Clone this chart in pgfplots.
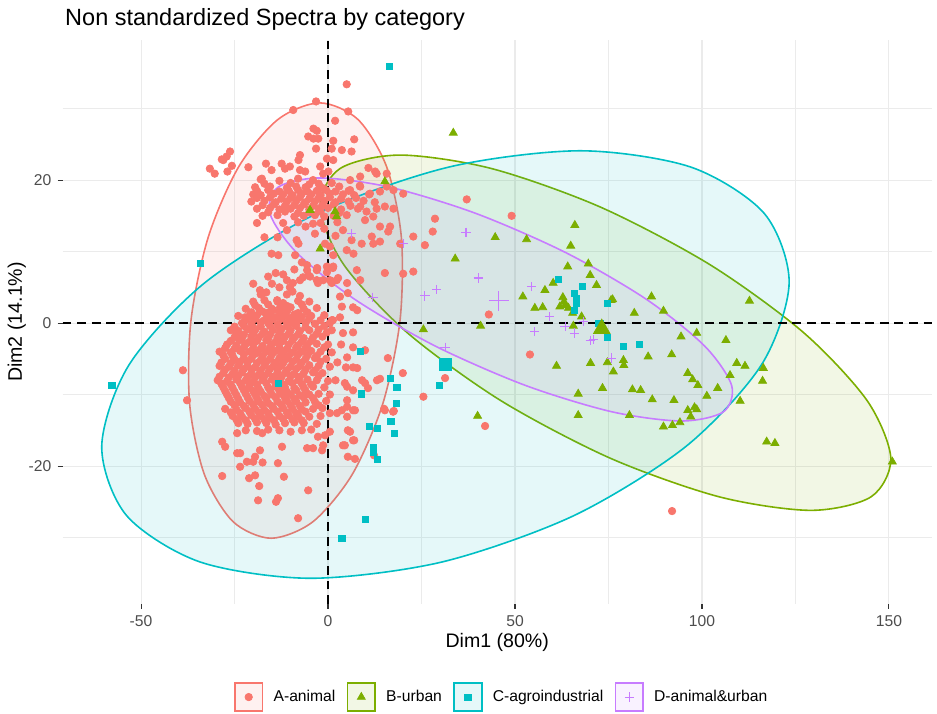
\documentclass[border=0pt]{standalone}
\usepackage{fontspec}
\setmainfont{Liberation Sans}
\usepackage{pgfplots}
\pgfplotsset{compat=1.18}
\definecolor{cA}{HTML}{F8766D}
\definecolor{cB}{HTML}{7CAE00}
\definecolor{cC}{HTML}{00BFC4}
\definecolor{cD}{HTML}{C77CFF}
\definecolor{gridc}{HTML}{EBEBEB}
\definecolor{tickc}{HTML}{4D4D4D}
\begin{document}
\begin{tikzpicture}
\begin{axis}[
 scale only axis, width=488.5pt, height=316.9pt,
 xmin=-71, xmax=161.5, ymin=-39.3, ymax=39.6,
 axis line style={draw=none},
 xtick={-50,0,50,100,150}, xticklabels={-50,0,50,100,150},
 ytick={-20,0,20}, yticklabels={-20,0,20},
 minor xtick={-25,25,75,125}, minor ytick={-30,-10,10,30},
 grid=both, major grid style={gridc, line width=0.6pt}, minor grid style={gridc, line width=0.35pt},
 tick align=outside, major tick length=2.75pt, minor tick length=0pt,
 xtick pos=bottom, ytick pos=left,
 tick style={black!80, line width=0.6pt},
 ticklabel style={font=\fontsize{8.8}{10}\selectfont, text=tickc},
 xlabel={Dim1 (80\%)}, ylabel={Dim2 (14.1\%)},
 label style={font=\fontsize{11}{13}\selectfont},
 xlabel style={at={(axis description cs:0.5,-0.068)}, anchor=center},
 ylabel style={at={(axis description cs:-0.0527,0.5)}, anchor=center},
 title={Non standardized Spectra by category},
 title style={at={(axis description cs:0,1)}, anchor=base west, yshift=2.3pt, xshift=-2pt, font=\fontsize{13.2}{15}\selectfont},
 legend style={at={(axis description cs:0.506,-0.165)}, anchor=center, legend columns=-1, draw=none, fill=none,
   font=\fontsize{8.8}{10}\selectfont, /tikz/every even column/.append style={column sep=4.3pt}},
 legend cell align=left,
]
\coordinate (bbSW) at (rel axis cs:-0.0719,-0.195);
\coordinate (bbNE) at (rel axis cs:1.0058,1.0709);

\addlegendimage{legend image code/.code={
  \draw[cA, fill=cA, fill opacity=0.1, line width=0.9pt] (0pt,-7.8pt) rectangle (15.6pt,7.8pt);
  \fill[cA] (7.8pt,0pt) circle (2.1pt); \path (19.6pt,0pt);}}
\addlegendentry{A-animal}
\addlegendimage{legend image code/.code={
  \draw[cB, fill=cB, fill opacity=0.1, line width=0.9pt] (0pt,-7.8pt) rectangle (15.6pt,7.8pt);
  \fill[cB] (7.8pt,2.6pt) -- (5.55pt,-1.3pt) -- (10.05pt,-1.3pt) -- cycle; \path (19.6pt,0pt);}}
\addlegendentry{B-urban}
\addlegendimage{legend image code/.code={
  \draw[cC, fill=cC, fill opacity=0.1, line width=0.9pt] (0pt,-7.8pt) rectangle (15.6pt,7.8pt);
  \fill[cC] (6.1pt,-1.7pt) rectangle (9.5pt,1.7pt); \path (19.6pt,0pt);}}
\addlegendentry{C-agroindustrial}
\addlegendimage{legend image code/.code={
  \draw[cD, fill=cD, fill opacity=0.1, line width=0.9pt] (0pt,-7.8pt) rectangle (15.6pt,7.8pt);
  \draw[cD, line width=0.6pt] (5.2pt,0pt) -- (10.4pt,0pt) (7.8pt,-2.6pt) -- (7.8pt,2.6pt); \path (19.6pt,0pt);}}
\addlegendentry{D-animal\&urban}

% A-animal points
\addplot[only marks, mark=*, mark size=2.1pt, cA, mark options={draw=none, fill=cA}, forget plot] coordinates {
(5,33.4) (-3.2,31) (-9.3,29.8) (5.4,29.6) (1.9,28.3) (-3.9,27.2) (-3,26.9) (-5.3,26.1) (-3.9,25.8) (-2.6,25.8)
(1.4,25.5) (7,25.7) (-3.2,24.4) (1,24.4) (3.7,24.2) (6.3,24) (-7.5,23.5) (-7.9,22.8) (-0.3,23) (1.4,22.8)
(-26.2,24) (-27.1,23.3) (-28,22.8) (-28.4,22.9) (-25.7,22) (-26.9,21.2) (-31.6,21.6) (-30.3,20.9) (-21.3,21.8)
(-16.6,22.3) (-12.4,22.3) (-11.5,21.6) (-10.2,21.9) (-15.1,21.4) (-17.7,20.2) (-7.5,21.4) (-6.1,21.2) (-2.1,21.9)
(-1.3,20.9) (0.1,21.2) (10.8,21.7) (12.6,21.2) (15.7,20.9)
(-18,20.1) (-13,19.9) (-8,20.2) (-4,20)
(-17,19.5) (-10,19.6) (-5,19.4) (-2.5,19.5) (1,19.6)
(-19.5,19) (-15.5,19.1) (-11,18.9) (-8.5,19.1) (-6,19) (-1.5,18.9) (3,19.1) (8.5,19.2)
(-19,18.5) (-16,18.6) (-13,18.4) (-10.5,18.5) (-8,18.6) (-5.5,18.4) (-3,18.5) (-0.5,18.6) (2,18.4) (5.5,18.5)
(-20,18) (-18,17.9) (-14.5,18.1) (-12,18) (-9.5,17.9) (-7,18.1) (-4.5,18) (-2,17.9) (0.5,18.1) (4,18) (7,17.9) (11,18)
(-19,17.5) (-15.5,17.6) (-12.5,17.4) (-10,17.5) (-7.5,17.6) (-5,17.4) (-2.5,17.5) (0.5,17.6) (3.5,17.4) (7.5,17.5)
(-20.5,17) (-17,17.1) (-14,16.9) (-11,17) (-8.5,17.1) (-6,16.9) (-3.5,17) (-1,17.1) (2,16.9) (5.5,17) (9.5,17.1) (12.5,16.9)
(-17.5,16.5) (-14.5,16.6) (-11.5,16.4) (-9,16.5) (-6.5,16.6) (-4,16.4) (-1.5,16.5) (1.5,16.6) (6,16.4)
(-19,16) (-15.5,16.1) (-13,15.9) (-10,16) (-7.5,16.1) (-5,15.9) (-2.5,16) (0,16.1) (3.5,15.9) (8,16)
(-16,15.5) (-11.5,15.6) (-8,15.4) (-5,15.5) (-2,15.6) (3,15.4)
(-17.5,15) (-13.5,15.1) (-9,14.9) (-6.5,15) (-3.5,15.1) (-1,14.9) (1.5,15) (5,15.1)
(-12,14) (-8,14.1) (-4,13.9) (-2,14) (2.5,14.1)
(5.9,20) (8.6,20.5) (13,20.9) (8.6,19.1) (5.9,18.6) (11.2,18.1) (13.9,18.4) (15.7,19.1) (17.5,18.6)
(8.6,16.3) (10.3,15.6) (13,16) (15.2,16.3) (17.5,16) (9.9,14.4) (12.1,14.9) (13.9,13.5) (16.6,13.5) (16.1,12.8)
(11.7,12.1) (9,11.1) (6.3,11.6) (12.1,11.1) (13.9,11.4) (19.3,11.1) (22.8,12.1) (25.9,10.9) (28.6,14.6) (22.8,7.2)
(20.1,6.9) (15.2,7) (7.7,7.4) (8.6,6) (5,10.2) (6.8,9.7) (28,12.8) (37.1,17.3) (49.1,15) (20.1,18.1)
(-8.4,11.6) (-7.9,11.1) (-15.1,9.7) (-13.3,9.5) (-0.8,11.1) (0.5,10.7) (1.4,9.5) (-0.3,7.9) (1.4,7.9) (2.3,6)
(1,5.6) (-3,7.4) (-4.8,6.5) (-3,6) (3.2,3.7) (3.7,2.3) (1,0.4) (-8.8,9.5) (-5.6,8.1) (-2.9,7.7) (-0.3,7.1)
(1.3,7.7) (-1.3,6) (0.5,6) (2.7,6.3) (5.3,4.2) (6.7,2.2) (7.8,1.8) (5.1,5.6) (-2.7,5.6)
(-11,13) (-6,13.5) (-3.5,12.5) (-1,13.2) (2,12.2) (4,13) (-17,12) (-19,14) (-13.5,12)
(-18.2,4.6) (-17.4,4.2) (-11,6) (-10.2,5) (-9.4,5.6) (-7.5,6) (-6.7,6.4) (-5.6,7.4) (-5.3,6.7) (-13.6,3.2)
(-12.8,2.2) (-14.7,1.8) (-16.3,1.4) (-18.2,1.8) (-22.2,0.8) (-20.9,1.1)
(-16,6.5) (-14,7) (-12,6.8) (-9,7.5) (-7,8.5) (-15,5.5) (-13,5) (-20,5.5)
(-18,4) (-16.5,4.3) (-11,4) (-9.5,4.4) (-7.5,3.8)
(-20,3) (-17,3.2) (-13.5,3) (-12,2.8) (-8,3.1) (-5,3)
(-19.5,2.5) (-16,2.6) (-11,2.4) (-7,2.6)
(-22,2) (-18.5,2.1) (-15,2) (-12.8,1.9) (-10,2.2) (-6.5,2) (-3,2.1)
(-20.5,1.5) (-17.5,1.6) (-15.5,1.4) (-13,1.5) (-11,1.6) (-8,1.4) (-5.5,1.5)
(-24,1) (-21,0.9) (-19,1.1) (-16.3,1) (-14,0.8) (-11.5,1) (-9,1.2) (-7,0.9) (-4.5,1) (-1,1.1)
(-22,0.5) (-19.5,0.6) (-17,0.4) (-15,0.5) (-12.5,0.6) (-10,0.4) (-7.5,0.5) (-5,0.6) (-2,0.4)
(-23,0) (-20.5,-0.1) (-18,0.1) (-16,0) (-13.5,-0.2) (-11,0) (-8.5,0.1) (-6,0) (-3.5,-0.1) (0.5,0)
(-25,-0.5) (-22.5,-0.4) (-20,-0.6) (-18,-0.5) (-15.5,-0.4) (-13,-0.6) (-11,-0.5) (-8.5,-0.4) (-6,-0.6) (-1,-0.4)
(-26,-1) (-24,-1.1) (-21.5,-0.9) (-19.5,-1) (-17,-1.2) (-14.8,-1) (-12.5,-0.9) (-10,-1) (-7.5,-1.1) (-5,-1) (-2.5,-0.9) (1,-1)
(-24.5,-1.5) (-22.5,-1.6) (-20,-1.4) (-17.5,-1.5) (-15.5,-1.6) (-13,-1.4) (-10.5,-1.5) (-8,-1.6) (-3,-1.5)
(-25,-2) (-23,-2.1) (-20.5,-1.9) (-18.5,-2) (-16,-2.2) (-13.5,-2) (-11.5,-1.9) (-9,-2) (-6.5,-2.1) (-4,-2) (-1.5,-1.9)
(-26,-2.5) (-23.5,-2.4) (-21,-2.6) (-19,-2.5) (-16.5,-2.4) (-14,-2.6) (-12,-2.5) (-9.5,-2.4) (-7,-2.6) (-4.5,-2.5)
(-27,-3) (-24.5,-3.1) (-22,-2.9) (-20,-3) (-17.5,-3.2) (-15,-3) (-13,-2.9) (-10.5,-3) (-8,-3.1) (-5.5,-3) (-3,-2.9) (0,-3)
(-27.5,-3.5) (-25,-3.6) (-22.5,-3.4) (-20,-3.5) (-18,-3.6) (-15.5,-3.4) (-13,-3.5) (-11,-3.6) (-8.5,-3.4) (-6,-3.5) (-1,-3.4)
(-29,-4) (-26,-4.1) (-23.5,-3.9) (-21,-4) (-19,-4.2) (-16.5,-4) (-14,-3.9) (-12,-4) (-9.5,-4.1) (-7,-4) (-4.5,-3.9) (-2,-4) (1,-4.1)
(-28,-4.5) (-25.5,-4.6) (-22.5,-4.4) (-20,-4.5) (-17.5,-4.6) (-15,-4.4) (-12.5,-4.5) (-10.5,-4.6) (-8,-4.4) (-5.5,-4.5) (-3,-4.6)
(-27.5,-5) (-25,-5.1) (-22.5,-4.9) (-20.5,-5) (-18,-5.2) (-15.5,-5) (-13,-4.9) (-11,-5) (-8.5,-5.1) (-6,-5) (-3.5,-4.9) (-0.5,-5)
(-28.5,-5.5) (-26,-5.6) (-23.5,-5.4) (-21.5,-5.5) (-19,-5.6) (-16.5,-5.4) (-14,-5.5) (-12,-5.6) (-9.5,-5.4) (-7,-5.5) (-2,-5.4)
(-29,-6) (-26.5,-6.1) (-24,-5.9) (-21.5,-6) (-19.5,-6.2) (-17,-6) (-14.5,-5.9) (-12.5,-6) (-10,-6.1) (-7.5,-6) (-5,-5.9) (-2.5,-6) (0.5,-6.1)
(-27.5,-6.5) (-25,-6.6) (-22.5,-6.4) (-20.5,-6.5) (-18,-6.6) (-15.5,-6.4) (-13.5,-6.5) (-11,-6.6) (-8.5,-6.4) (-6,-6.5) (-3.5,-6.6)
(-28,-7) (-25.5,-7.1) (-23,-6.9) (-20.5,-7) (-18.5,-7.2) (-16,-7) (-13.5,-6.9) (-11.5,-7) (-9,-7.1) (-6.5,-7) (-4,-6.9) (-1.5,-7)
(-29,-7.5) (-26.5,-7.6) (-24,-7.4) (-21.5,-7.5) (-19.5,-7.6) (-17,-7.4) (-14.5,-7.5) (-12.5,-7.6) (-10,-7.4) (-7.5,-7.5) (-2.5,-7.4)
(-29.5,-8) (-27,-8.1) (-24.5,-7.9) (-22,-8) (-20,-8.2) (-17.5,-8) (-15,-7.9) (-13,-8) (-10.5,-8.1) (-8,-8) (-5.5,-7.9) (-3,-8) (0,-8.1)
(-28.5,-8.5) (-26,-8.6) (-23.5,-8.4) (-21,-8.5) (-19,-8.6) (-16.5,-8.4) (-14,-8.5) (-12,-8.6) (-9.5,-8.4) (-7,-8.5) (-4.5,-8.6)
(-28,-9) (-25.5,-9.1) (-23,-8.9) (-21,-9) (-18.5,-9.2) (-16,-9) (-14,-8.9) (-11.5,-9) (-9,-9.1) (-6.5,-9) (-4,-8.9) (-1,-9)
(-27.5,-9.5) (-25,-9.6) (-22.5,-9.4) (-20,-9.5) (-18,-9.6) (-15.5,-9.4) (-13,-9.5) (-11,-9.6) (-8.5,-9.4) (-6,-9.5)
(-27,-10) (-24.5,-10.1) (-22,-9.9) (-19.5,-10) (-17,-10.2) (-15,-10) (-12.5,-9.9) (-10,-10) (-7.5,-10.1) (-5,-10) (-2.5,-9.9) (0.5,-10)
(-26.5,-10.5) (-24,-10.6) (-21.5,-10.4) (-19,-10.5) (-16.5,-10.6) (-14,-10.4) (-11.5,-10.5) (-9,-10.6) (-6.5,-10.4) (-4,-10.5)
(-26,-11) (-23.5,-11.1) (-21,-10.9) (-18.5,-11) (-16,-11.2) (-13.5,-11) (-11,-10.9) (-8.5,-11) (-6,-11.1) (-3.5,-11) (-0.5,-10.9)
(-25,-11.5) (-22.5,-11.6) (-20,-11.4) (-17.5,-11.5) (-15,-11.6) (-12.5,-11.4) (-10,-11.5) (-7.5,-11.6) (-2.5,-11.5)
(-27.5,-12) (-24.5,-12.1) (-22,-11.9) (-19.5,-12) (-17,-12.2) (-14.5,-12) (-12,-11.9) (-9.5,-12) (-7,-12.1) (-4,-12) (-1.5,-11.9)
(-26,-12.5) (-23.5,-12.6) (-21,-12.4) (-18.5,-12.5) (-16,-12.6) (-13.5,-12.4) (-11,-12.5) (-8.5,-12.6) (-6,-12.4)
(-25.5,-13) (-23,-13.1) (-20.5,-12.9) (-18,-13) (-15.5,-13.2) (-13,-13) (-10.5,-12.9) (-8,-13) (-5,-13.1) (-2,-13)
(-24.5,-13.5) (-22,-13.6) (-19.5,-13.4) (-17,-13.5) (-14.5,-13.6) (-12,-13.4) (-9.5,-13.5) (-7,-13.6)
(-24,-14) (-21.5,-14.1) (-19,-13.9) (-16.5,-14) (-14,-14.2) (-11.5,-14) (-9,-13.9) (-6.5,-14) (-3,-14.1)
(-22,-15) (-19,-15.1) (-16,-14.9) (-13,-15) (-10,-15.2) (-7,-15) (-4.5,-14.9)
(4,-1.4) (6.7,-1.3) (9.9,-3.8) (7.8,-6.3) (4.8,-6.2) (4.5,-8.4) (9.1,-8) (9.9,-8.4) (10.7,-9.1) (13.1,-8)
(13.9,-7.8) (16,-4.9) (20,-7) (15.2,-12.2) (17.4,-12.4) (5.1,-10.8) (6.7,-12.2) (5.3,-15) (4,-17.1) (6.7,-16.4)
(5.3,-18.7) (7.2,-19) (12.3,-18.5) (-38.8,-6.6) (-37.7,-10.8) (-0.3,-1.3) (1.3,0.4) (3.2,0.8) (6.7,-3.4)
(5.1,-4.8) (6.7,-6.2) (5.1,-8.9) (6.7,-9.4) (3.5,-3) (2.5,-5.5) (2,-8)
(-28.3,-16.6) (-27.5,-17.3) (-24.3,-15.4) (-24.3,-18.2) (-23.5,-18.2) (-23.5,-20.1) (-21.7,-19.4) (-20,-19.4)
(-17.5,-19.5) (-19.5,-18.7) (-18.2,-17.8) (-17.6,-15.4) (-28.3,-21.4) (-21.1,-21.7) (-19.5,-21.3) (-18.4,-22.8)
(-13.4,-19.6) (-12.3,-17.3) (-11.8,-21.5) (-18.7,-24.8) (-13.9,-25) (-13.4,-24.5) (-5.3,-23.4) (-8,-27.3)
(-5.6,-17.5) (-4,-17.5) (-1.6,-17.8) (-1.3,-17.1) (4.5,-17.1) (7,-16.4) (5.9,-15.2) (5.1,-13.1) (7.2,-12.2)
(15,-12) (17.6,-12.3) (0.5,-15.2) (-0.8,-15.7) (-2.7,-15.9) (0.5,-12.6) (2.4,-12.6) (3.7,-12.2) (5.1,-11.7)
(43,1.2) (54,-4.4) (31.3,-7.7) (25.5,-10.3) (42,-14.4) (92,-26.3)
};

% B-urban points
\addplot[only marks, mark=triangle*, mark size=2.6pt, cB, mark options={draw=none, fill=cB}, forget plot] coordinates {
(66,13.7) (44.7,12) (53.1,11.7) (64.9,10.8) (34,9) (64.1,7.9) (69.6,8.3) (70.1,6.7) (71.8,5.3) (60.2,5.6)
(58,4.6) (52.1,3.7) (55.3,2.1) (57.4,2.2) (62,2.3) (63.4,2.5) (64.3,2.1) (62.8,3.6) (63.1,3) (65.4,1.4)
(67.8,0.9) (75.7,3.2) (76.1,3.3) (81.9,1.4) (86.5,3.7) (89.7,1.7) (40.8,-0.4) (25.5,-0.9) (65.6,-0.4) (94.4,-1.9)
(98.6,-1.4) (106.4,-2.4) (109.3,-5.6) (91.9,-4.4) (85.6,-4.7) (70.2,-5.6) (74.7,-5.5) (79,-5.2) (79.1,-5.9) (76.3,-6.8)
(61.1,-6) (73.4,-9.1) (81.4,-9.3) (83.6,-9.4) (86.7,-10.7) (92.5,-10.8) (96.2,-7) (97.5,-7.9) (98.9,-8.7) (101.3,-10.2)
(104.2,-9.1) (107.5,-7.3) (66.9,-9.9) (80.6,-12.9) (66.9,-12.9) (40,-13) (96.2,-12.2) (98,-11.8) (98.6,-12.1) (97,-13.1)
(89.7,-14.5) (92.1,-14.3) (94.1,-13.9) (112.7,3.1) (111.5,-6) (116.4,-6.3) (116.2,-8.1) (110.2,-10.9) (117.3,-16.6)
(119.5,-16.8) (150.9,-19.4) (33.5,26.6) (15.2,19.8) (-4.8,15.8) (1.9,15.6) (2.3,14.9) (-2.1,10.4)
};

% C-agroindustrial points
\addplot[only marks, mark=square*, mark size=1.7pt, cC, mark options={draw=none, fill=cC}, forget plot] coordinates {
(16.3,35.9) (-34.2,8.3) (-57.8,-8.7) (-13.3,-8.4) (8.6,-4) (16.6,-7.8) (18.4,-9) (8.8,-9.9) (18.2,-11.2) (11,-14.5)
(13.3,-14.7) (16.8,-13.8) (17.7,-15.4) (12,-17.4) (12,-18.1) (13.3,-19.1) (10.1,-27.4) (3.7,-30.1) (29.8,-8.7)
(61.6,6.1) (68.1,5.2) (65.9,4.2) (66.5,3.5) (66.3,2.8) (65.9,1.8) (74.8,2.8) (72.3,0) (72.7,-0.1) (74.8,-2)
(79,-3.2) (83.2,-3)
};

% D-animal&urban points
\addplot[only marks, mark=+, mark size=2.6pt, cD, mark options={line width=0.6pt}, forget plot] coordinates {
(6.3,12.5) (20.1,11.1) (12,3.6) (25.9,3.8) (29.1,4.7) (36.9,12.7) (40.2,6.3) (54.5,5.1) (59.2,0.9) (55.3,-1.2)
(63.4,-0.5) (65.9,-1.4) (68.3,0.2) (70.1,-2.4) (70.9,-2.3) (75.9,-4.9) (31.3,-3.4)
};

% concentration ellipses
\addplot[cA, line width=0.9pt, fill=cA, fill opacity=0.1, smooth cycle, forget plot] coordinates {
(-2.2,30.8) (8.0,28.48) (15.66,21.88) (19.61,12.0) (19.25,0.35) (14.64,-11.3) (6.47,-21.18) (-4.01,-27.78)
(-15.2,-30.1) (-25.40,-27.78) (-33.06,-21.18) (-37.01,-11.3) (-36.65,0.35) (-32.04,12.0) (-23.87,21.88) (-13.39,28.48)
};
\addplot[cB, line width=0.9pt, fill=cB, fill opacity=0.1, smooth cycle, forget plot] coordinates {
(19.3,23.5) (43.76,21.61) (72.86,16.22) (102.16,8.16) (127.2,-1.35) (144.18,-10.86) (150.5,-18.92) (145.2,-24.31)
(129.1,-26.2) (104.64,-24.31) (75.54,-18.92) (46.24,-10.86) (21.2,-1.35) (4.22,8.16) (-2.1,16.22) (3.2,21.61)
};
\addplot[cC, line width=0.9pt, fill=cC, fill opacity=0.1, smooth cycle, forget plot] coordinates {
(67.4,24.1) (97.02,21.82) (116.65,15.34) (123.31,5.64) (115.96,-5.8) (95.75,-17.24) (65.73,-26.94) (30.5,-33.42)
(-4.6,-35.7) (-34.22,-33.42) (-53.85,-26.94) (-60.51,-17.24) (-53.16,-5.8) (-32.95,5.64) (-2.93,15.34) (32.3,21.82)
};
\addplot[cD, line width=0.9pt, fill=cD, fill opacity=0.1, smooth cycle, forget plot] coordinates {
(-2.1,20.3) (16.51,19.01) (39.63,15.32) (63.75,9.81) (85.2,3.3) (100.71,-3.21) (107.93,-8.72) (105.75,-12.41)
(94.5,-13.7) (75.89,-12.41) (52.77,-8.72) (28.65,-3.21) (7.2,3.3) (-8.31,9.81) (-15.53,15.32) (-13.35,19.01)
};

% reference lines
\addplot[black, line width=0.9pt, dash pattern=on 5pt off 3.2pt, forget plot] coordinates {(0,-39.3) (0,39.6)};
\addplot[black, line width=0.9pt, dash pattern=on 5pt off 3.2pt, forget plot] coordinates {(-71,0) (161.5,0)};

% group means
\addplot[only marks, mark=*, mark size=3.6pt, cA, mark options={draw=none, fill=cA}, forget plot] coordinates {(-9.4,0.4)};
\addplot[only marks, mark=triangle*, mark size=5.4pt, cB, mark options={draw=none, fill=cB}, forget plot] coordinates {(73.2,-0.8)};
\addplot[only marks, mark=square*, mark size=3.4pt, cC, mark options={draw=none, fill=cC}, forget plot] coordinates {(31.4,-5.8)};
\addplot[only marks, mark=+, mark size=5.6pt, cD, mark options={line width=0.6pt}, forget plot] coordinates {(45.7,3.1)};
\end{axis}
\pgfresetboundingbox
\path[use as bounding box] (bbSW) rectangle (bbNE);
\end{tikzpicture}
\end{document}
